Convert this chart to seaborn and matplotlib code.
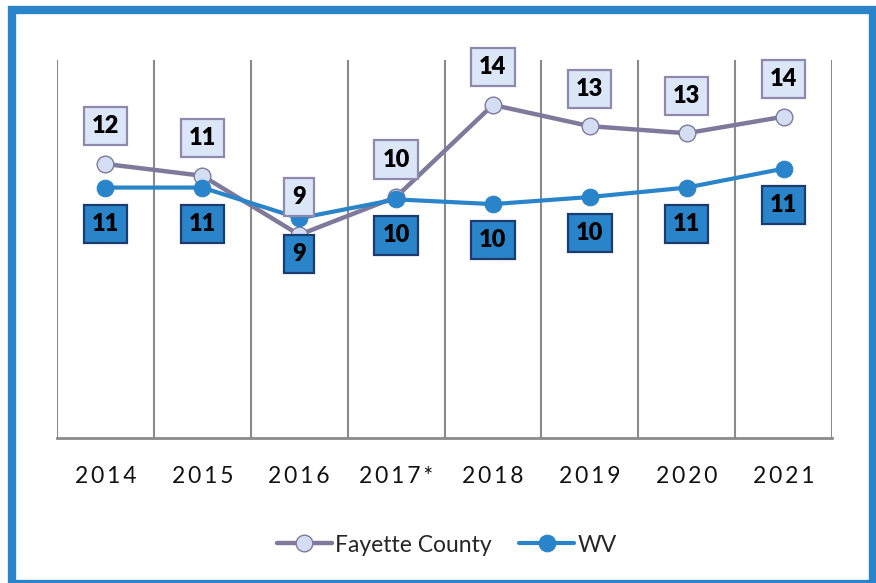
import numpy as np
import pandas as pd
import seaborn as sns
import matplotlib.pyplot as plt
from matplotlib.patches import Rectangle

years = ["2014", "2015", "2016", "2017*", "2018", "2019", "2020", "2021"]
fayette = [11.6, 11.1, 8.6, 10.2, 14.1, 13.2, 12.9, 13.6]
wv = [10.6, 10.6, 9.3, 10.1, 9.9, 10.2, 10.6, 11.4]

fay_line = "#7f7a9b"
fay_face = "#d3def4"
wv_col = "#2a84c9"
grid_col = "#8a8a8a"

sns.set_style("white")
plt.rcParams["font.family"] = ["Lato", "DejaVu Sans"]

df = pd.DataFrame({"x": np.arange(len(years)), "Fayette County": fayette, "WV": wv})

fig = plt.figure(figsize=(8.76, 5.83), dpi=100)
ax = fig.add_axes([57 / 876, 1 - 438 / 583, 775 / 876, 378 / 583])

sns.lineplot(data=df, x="x", y="Fayette County", ax=ax, color=fay_line, lw=3.2,
             marker="o", markersize=12, markerfacecolor=fay_face,
             markeredgecolor=fay_line, markeredgewidth=1.0, label="Fayette County", zorder=3)
sns.lineplot(data=df, x="x", y="WV", ax=ax, color=wv_col, lw=3.0,
             marker="o", markersize=12, markerfacecolor=wv_col,
             markeredgecolor=wv_col, label="WV", zorder=4)

ax.set_xlim(-0.5, len(years) - 0.5)
ax.set_ylim(0, 16)
ax.set_xlabel("")
ax.set_ylabel("")
ax.set_yticks([])

# value labels in boxes
for i, v in enumerate(fayette):
    ax.annotate(f"{round(v):.0f}", (i, v), xytext=(0, 27), textcoords="offset points",
                ha="center", va="center", fontsize=17, fontweight="heavy", color="black",
                bbox=dict(boxstyle="square,pad=0.34", fc="#dbe6f8", ec="#8e89ad", lw=1.6),
                zorder=6)
for i, v in enumerate(wv):
    ax.annotate(f"{round(v):.0f}", (i, v), xytext=(0, -26), textcoords="offset points",
                ha="center", va="center", fontsize=17, fontweight="heavy", color="black",
                bbox=dict(boxstyle="square,pad=0.34", fc="#2a84c9", ec="#1c3b6e", lw=1.6),
                zorder=6)

# category ticks and vertical grid between categories
ax.set_xticks(np.arange(len(years)))
ax.set_xticklabels(["\u2009".join(y) for y in years], fontsize=16.5)
ax.set_xticks(np.arange(-0.5, len(years)), minor=True)
ax.tick_params(axis="x", which="major", length=0, pad=20, labelcolor="#111111")
ax.tick_params(axis="x", which="minor", length=9, width=1.5, color=grid_col, direction="out")
ax.grid(False)
ax.grid(True, which="minor", axis="x", color=grid_col, lw=1.5)
for s in ["top", "left", "right"]:
    ax.spines[s].set_visible(False)
ax.spines["bottom"].set_color(grid_col)
ax.spines["bottom"].set_linewidth(2)

ax.legend(loc="center", bbox_to_anchor=(0.51, (583 - 545) / 583), bbox_transform=fig.transFigure,
          ncol=2, frameon=False, fontsize=16.5, handlelength=2.4, columnspacing=1.2,
          handletextpad=0.15)

# outer frame
fig.patches.append(Rectangle((12 / 876, -1 / 583), 861 / 876, 574 / 583,
                             transform=fig.transFigure, fill=False, ec="#2a84c9", lw=6,
                             clip_on=False))

fig.savefig("out.png", dpi=100)
